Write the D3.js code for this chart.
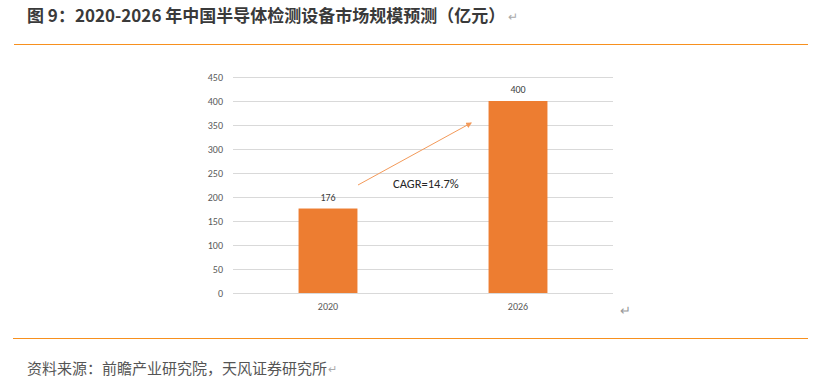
<!DOCTYPE html>
<html>
<head>
<meta charset="utf-8">
<script src="https://cdn.jsdelivr.net/npm/d3@7"></script>
<style>
  body { margin: 0; background: #fff; }
  svg { display: block; }
</style>
</head>
<body>
<svg width="840" height="388"></svg>
<script>
"use strict";

var years = ["2020", "2026"];
var marketSize = [176, 400];
var yTicks = [0, 50, 100, 150, 200, 250, 300, 350, 400, 450];
var titleText = "图 9：2020-2026 年中国半导体检测设备市场规模预测（亿元）";
var sourceText = "资料来源：前瞻产业研究院，天风证券研究所";
var cagrText = "CAGR=14.7%";

var svg = d3.select("svg");
var cjk = "'Noto Sans CJK SC', 'Noto Sans', sans-serif";
var latin = "Calibri, 'Liberation Sans', 'Noto Sans', sans-serif";

// header
var title = svg.append("text")
  .attr("x", 27).attr("y", 22)
  .attr("font-family", cjk).attr("font-size", 17).attr("font-weight", "bold")
  .attr("fill", "#3a3a3a")
  .text(titleText);
var titleEnd = 27 + title.node().getComputedTextLength();
svg.append("text")
  .attr("x", titleEnd + 3).attr("y", 21)
  .attr("font-family", cjk).attr("font-size", 12).attr("fill", "#aaa")
  .text("↵");
svg.append("line")
  .attr("x1", 14).attr("x2", 808).attr("y1", 44.5).attr("y2", 44.5)
  .attr("stroke", "#F7901E").attr("stroke-width", 1);

// footer
svg.append("line")
  .attr("x1", 13).attr("x2", 808).attr("y1", 338.5).attr("y2", 338.5)
  .attr("stroke", "#F7901E").attr("stroke-width", 1);
var source = svg.append("text")
  .attr("x", 27).attr("y", 374)
  .attr("font-family", cjk).attr("font-size", 15).attr("fill", "#555")
  .text(sourceText);
var sourceEnd = 27 + source.node().getComputedTextLength();
svg.append("text")
  .attr("x", sourceEnd + 1).attr("y", 373)
  .attr("font-family", cjk).attr("font-size", 11).attr("fill", "#aaa")
  .text("↵");
svg.append("text")
  .attr("x", 620).attr("y", 315)
  .attr("font-family", cjk).attr("font-size", 13).attr("fill", "#999")
  .text("↵");

// chart
var x = d3.scaleBand()
  .domain(years)
  .range([233, 613])
  .paddingInner(0.69)
  .paddingOuter(0.345);

var y = d3.scaleLinear()
  .domain([0, 450])
  .range([293, 77]);

var grid = svg.append("g").attr("class", "grid");
grid.selectAll("line")
  .data(yTicks)
  .enter().append("line")
  .attr("x1", 233).attr("x2", 613)
  .attr("y1", function (d) { return y(d) + 0.5; })
  .attr("y2", function (d) { return y(d) + 0.5; })
  .attr("stroke", "#d9d9d9").attr("stroke-width", 1);

var yAxis = svg.append("g")
  .attr("transform", "translate(233,0)")
  .call(d3.axisLeft(y).tickValues(yTicks).tickSize(0).tickPadding(10));
yAxis.select(".domain").remove();
yAxis.selectAll("text")
  .attr("font-family", latin).attr("font-size", 10).attr("fill", "#595959");

var xAxis = svg.append("g")
  .attr("transform", "translate(0,293)")
  .call(d3.axisBottom(x).tickSize(0).tickPadding(10));
xAxis.select(".domain").remove();
xAxis.selectAll("text")
  .attr("font-family", latin).attr("font-size", 10).attr("fill", "#595959");

var bars = svg.append("g").attr("class", "bars");
bars.selectAll("rect")
  .data(marketSize)
  .enter().append("rect")
  .attr("x", function (d, i) { return x(years[i]); })
  .attr("y", function (d) { return y(d); })
  .attr("width", x.bandwidth())
  .attr("height", function (d) { return y(0) - y(d); })
  .attr("fill", "#ED7D31");

bars.selectAll("text")
  .data(marketSize)
  .enter().append("text")
  .attr("x", function (d, i) { return x(years[i]) + x.bandwidth() / 2; })
  .attr("y", function (d) { return y(d) - 8; })
  .attr("text-anchor", "middle")
  .attr("font-family", latin).attr("font-size", 10).attr("fill", "#404040")
  .text(function (d) { return d; });

// CAGR arrow
svg.append("defs").append("marker")
  .attr("id", "arrow")
  .attr("viewBox", "0 0 10 10")
  .attr("refX", 8).attr("refY", 5)
  .attr("markerWidth", 6).attr("markerHeight", 6)
  .attr("orient", "auto")
  .append("path")
  .attr("d", "M0,0 L10,5 L0,10 z")
  .attr("fill", "#F39A5A");

svg.append("line")
  .attr("x1", 358).attr("y1", 185)
  .attr("x2", 471).attr("y2", 123)
  .attr("stroke", "#F39A5A").attr("stroke-width", 1)
  .attr("marker-end", "url(#arrow)");

svg.append("text")
  .attr("x", 393).attr("y", 188)
  .attr("font-family", latin).attr("font-size", 12.5).attr("fill", "#262626")
  .text(cagrText);
</script>
</body>
</html>
